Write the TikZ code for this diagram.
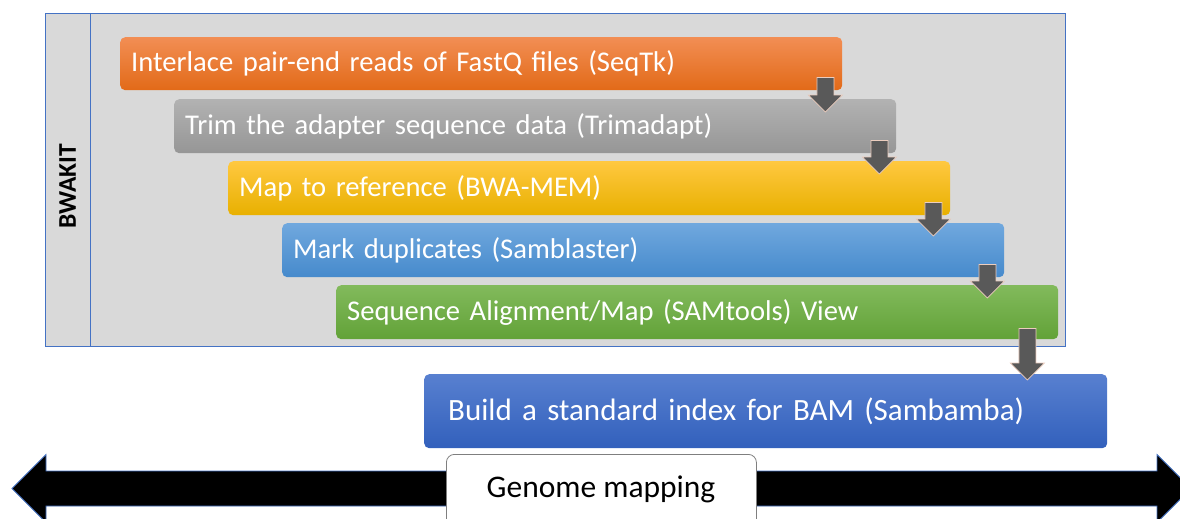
\documentclass[tikz,border=0pt]{standalone}
\usepackage{fontspec}
\setmainfont{Carlito}
\usetikzlibrary{calc}

\definecolor{panelgray}{RGB}{217,217,217}
\definecolor{panelblue}{RGB}{68,114,196}
\definecolor{orTop}{RGB}{242,142,84}
\definecolor{orMid}{RGB}{237,125,49}
\definecolor{orBot}{RGB}{226,106,24}
\definecolor{grTop}{RGB}{178,178,178}
\definecolor{grMid}{RGB}{165,165,165}
\definecolor{grBot}{RGB}{150,150,150}
\definecolor{yeTop}{RGB}{255,200,64}
\definecolor{yeMid}{RGB}{255,192,0}
\definecolor{yeBot}{RGB}{232,176,0}
\definecolor{blTop}{RGB}{112,168,222}
\definecolor{blMid}{RGB}{91,155,213}
\definecolor{blBot}{RGB}{70,138,204}
\definecolor{gnTop}{RGB}{130,186,92}
\definecolor{gnMid}{RGB}{112,173,71}
\definecolor{gnBot}{RGB}{98,162,56}
\definecolor{bdTop}{RGB}{88,128,208}
\definecolor{bdMid}{RGB}{68,114,196}
\definecolor{bdBot}{RGB}{50,96,188}
\definecolor{arrowfill}{RGB}{89,89,89}
\definecolor{arrowrim}{RGB}{236,205,190}
\definecolor{boxrim}{RGB}{127,127,127}

\tikzset{
  x=1pt, y=-1pt,
  stepbox/.style={rounded corners=5pt, minimum height=54pt, text width=700pt,
    inner xsep=11pt, inner ysep=0pt, align=left, anchor=north west, text=white,
    font=\fontsize{28.6}{33}\selectfont},
  shadecols/.style n args={3}{top color=#1, middle color=#2, bottom color=#3},
  blockarrow/.style={fill=arrowfill, draw=arrowrim, line width=0.7pt,
    to path={let \p1=(\tikztostart), \p2=(\tikztotarget) in
      (\x1-8.5pt,\y1) -- (\x1+8.5pt,\y1) -- (\x1+8.5pt,\y2+17pt) -- (\x1+17pt,\y2+17pt)
      -- (\x1,\y2) -- (\x1-17pt,\y2+17pt) -- (\x1-8.5pt,\y2+17pt) -- cycle}},
}

\begin{document}
\begin{tikzpicture}
\useasboundingbox (0,0) rectangle (1180,519);
\clip (0,0) rectangle (1180,519);

% grouping panel with its vertical label column
\node[draw=panelblue, fill=panelgray, line width=0.9pt, minimum width=1020pt,
  minimum height=333pt, anchor=north west, inner sep=0pt] (panel) at (45,13) {};
\draw[panelblue, line width=0.9pt] (90,13) coordinate (colTop) -- (colTop |- panel.south);
\node[rotate=90, font=\fontsize{25.5}{30}\selectfont\bfseries] (kit) at (67.5,186) {BWAKIT};

% pipeline steps
\node[stepbox, shadecols={orTop}{orMid}{orBot}, minimum height=53pt] (s1) at (120,37)
  {Interlace pair-end reads of FastQ files (SeqTk)};
\node[stepbox, shadecols={grTop}{grMid}{grBot}] (s2) at (174,99)
  {Trim the adapter sequence data (Trimadapt)};
\node[stepbox, shadecols={yeTop}{yeMid}{yeBot}] (s3) at (228,161)
  {Map to reference (BWA-MEM)};
\node[stepbox, shadecols={blTop}{blMid}{blBot}] (s4) at (282,223)
  {Mark duplicates (Samblaster)};
\node[stepbox, shadecols={gnTop}{gnMid}{gnBot}] (s5) at (336,285)
  {Sequence Alignment/Map (SAMtools) View};
\node[stepbox, shadecols={bdTop}{bdMid}{bdBot}, minimum height=74pt, text width=635pt,
  inner xsep=24pt, font=\fontsize{31}{36}\selectfont] (s6) at (424,374)
  {Build a standard index for BAM (Sambamba)};

% step-to-step block arrows
\foreach \a/\b in {s1/s2, s2/s3, s3/s4, s4/s5}{
  \coordinate (\a-out) at ($(\a.south east)+(-17,-13)$);
  \path (\b.north) ++(0,13) coordinate (\b-in-level);
  \coordinate (\b-in) at (\a-out |- \b-in-level);
  \draw[blockarrow] (\a-out) to (\b-in);
}
\coordinate (s5-out) at ($(s5.south east)+(-31,-11)$);
\path (s6.north) ++(0,6) coordinate (s6-in-level);
\coordinate (s6-in) at (s5-out |- s6-in-level);
\draw[blockarrow] (s5-out) to (s6-in);

% timeline double arrow
\coordinate (tl-left) at (12,488.5);
\coordinate (tl-right) at (1191,488.5);
\fill[black, draw=panelblue, line width=0.8pt]
  (tl-left) -- (46,454.5) -- (46,471) -- (1157,471) -- (1157,454.5) -- (tl-right)
  -- (1157,522.5) -- (1157,506) -- (46,506) -- (46,522.5) -- cycle;

% timeline caption
\node[draw=boxrim, fill=white, rounded corners=8pt, line width=0.8pt, minimum width=310pt,
  minimum height=80pt, anchor=north west, inner sep=0pt] (cap) at (446,454) {};
\node[font=\fontsize{31.5}{36}\selectfont] (captext) at (601,489.5) {Genome mapping};
\end{tikzpicture}
\end{document}
